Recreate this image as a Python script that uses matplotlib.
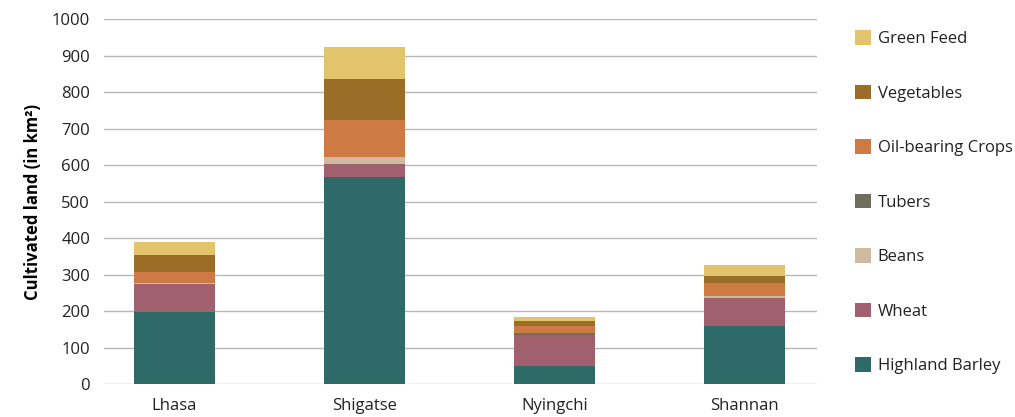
import matplotlib
matplotlib.use("Agg")
import matplotlib.pyplot as plt
from matplotlib.patches import Patch
import numpy as np

plt.rcParams['font.family'] = ['Open Sans', 'DejaVu Sans']

regions = ["Lhasa", "Shigatse", "Nyingchi", "Shannan"]
highland_barley = [197, 567, 49, 159]
wheat = [77, 36, 84, 77]
beans = [3, 19, 0, 5]
tubers = [0, 0, 7, 0]
oil_crops = [30, 101, 19, 36]
vegetables = [46, 112, 14, 19]
green_feed = [36, 88, 11, 30]

series = [
    ("Highland Barley", highland_barley, "#2e6b68"),
    ("Wheat", wheat, "#a0606e"),
    ("Beans", beans, "#cfb9a0"),
    ("Tubers", tubers, "#6e6e5c"),
    ("Oil-bearing Crops", oil_crops, "#cd7a44"),
    ("Vegetables", vegetables, "#9a6e26"),
    ("Green Feed", green_feed, "#e2c46c"),
]

fig = plt.figure(figsize=(10.15, 4.17), dpi=100)
ax = fig.add_axes([0.1025, 0.0791, 0.7025, 0.8753])

x = np.arange(len(regions))
bottom = np.zeros(len(regions))
handles = []
for name, vals, color in series:
    vals = np.array(vals, dtype=float)
    ax.bar(x, vals, bottom=bottom, width=0.426, color=color, zorder=3, linewidth=0)
    bottom += vals
    handles.append(Patch(facecolor=color, label=name))

ax.set_xlim(-0.371, 3.38)
ax.set_ylim(0, 1000)
ax.set_yticks(np.arange(0, 1001, 100))
ax.set_xticks(x)
ax.set_xticklabels(regions)
ax.grid(axis='y', color='#b8b8b8', linewidth=1.0, zorder=0)
ax.tick_params(axis='both', length=0, labelsize=12, colors='#222222')
ax.tick_params(axis='y', pad=10)
ax.tick_params(axis='x', pad=10)
for s in ax.spines.values():
    s.set_visible(False)
ax.set_ylabel("Cultivated land (in km²)", fontsize=12, fontweight='bold', labelpad=7)

leg = fig.legend(handles=handles[::-1], loc='upper left', bbox_to_anchor=(0.842, 0.927),
                 frameon=False, fontsize=12, handlelength=0.96, handleheight=0.96,
                 handletextpad=0.42, labelspacing=2.25, borderaxespad=0, borderpad=0)
for t in leg.get_texts():
    t.set_color('#222222')

fig.savefig("out.png", dpi=100)
